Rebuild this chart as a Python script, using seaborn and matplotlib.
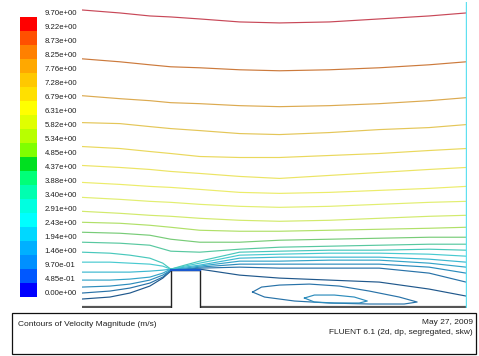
import numpy as np
import pandas as pd
import matplotlib
matplotlib.use("Agg")
import matplotlib.pyplot as plt
import seaborn as sns
from matplotlib.colors import ListedColormap
from matplotlib.patches import Rectangle

# ---- colour scale (velocity magnitude, m/s), top to bottom
scale_values = [9.70, 9.22, 8.73, 8.25, 7.76, 7.28, 6.79, 6.31, 5.82, 5.34, 4.85,
                4.37, 3.88, 3.40, 2.91, 2.43, 1.94, 1.46, 0.970, 0.485, 0.00]
band_colors = ["#ff0000", "#ff5000", "#ff8000", "#ffa800", "#ffc800", "#ffe000",
               "#ffff00", "#e0ff00", "#b8ff00", "#80ff00", "#00e020", "#00ff78",
               "#00ffb0", "#00ffe0", "#00ffff", "#00d8ff", "#00b0ff", "#0090ff",
               "#0058ff", "#0000ff"]

# ---- geometry (domain units)
domain_x = [0, 385]
domain_y = [0, 306]
wall_left_x = [0, 89]
wall_right_x = [118, 385]
block_x = [89, 89, 118, 118]
block_y = [0, 37, 37, 0]

# ---- contour lines running over the whole channel
upper_levels = [9.22, 8.73, 8.25, 7.76, 7.28, 6.79, 6.31, 5.82, 5.34, 4.85, 4.37, 3.88]
x_upper = [0, 38, 68, 89, 118, 158, 198, 248, 298, 348, 385]
c922 = [298, 295, 292, 291, 289, 286, 285, 286, 289, 292, 295]
c873 = [249, 246, 243, 241, 240, 238, 237, 238, 240, 243, 246]
c825 = [212, 209, 207, 205, 204, 202, 201, 202, 204, 207, 210]
c776 = [185, 184, 181, 179, 177, 174, 173, 175, 178, 180, 183]
c728 = [161, 159, 156, 154, 151, 150, 150, 152, 154, 157, 159]
c679 = [142, 140, 138, 136, 134, 131, 129, 132, 135, 138, 140]
c631 = [125, 123, 121, 120, 118, 115, 114, 115, 117, 119, 121]
c582 = [110, 108, 106, 105, 103, 101, 100, 101, 103, 105, 106]
c534 = [96, 94, 92, 91, 89, 87, 86, 87, 89, 91, 92]
c485 = [85, 84, 82, 80, 77, 76, 76, 77, 78, 79, 80]
c437 = [75, 74, 72, 68, 65, 65, 67, 68, 69, 70, 70]
c388 = [65, 64, 62, 56, 55, 58, 60, 61, 62, 63, 63]
upper_lines = [c922, c873, c825, c776, c728, c679, c631, c582, c534, c485, c437, c388]

# ---- low levels: upstream part ends at the block corner, downstream part leaves the block top
lower_levels = [3.40, 2.91, 2.43, 1.94, 1.46, 0.970, 0.485]
x_in = [0, 28, 48, 68, 81, 89]
in340 = [55, 54, 52, 49, 44, 38]
in291 = [45, 45, 44, 43, 41, 38]
in243 = [35, 35, 35, 36, 37, 38]
in194 = [27, 27, 28, 30, 34, 38]
in146 = [20, 21, 23, 27, 32, 37]
in097 = [14, 16, 19, 24, 30, 37]
in049 = [8, 10, 14, 21, 29, 36]
x_out = [89, 103, 118, 158, 198, 248, 298, 348, 385]
out340 = [38, 42, 46, 55, 56, 57, 57, 58, 57]
out291 = [38, 41, 44, 52, 53, 54, 54, 53, 51]
out243 = [38, 40, 42, 49, 50, 50, 50, 48, 45]
out194 = [38, 39, 41, 46, 46, 47, 47, 44, 40]
out146 = [37, 38, 40, 43, 43, 43, 43, 40, 34]
out097 = [37, 38, 39, 40, 39, 39, 39, 34, 25]
out049 = [37, 37, 38, 32, 29, 27, 25, 18, 11]
lower_in = [in340, in291, in243, in194, in146, in097, in049]
lower_out = [out340, out291, out243, out194, out146, out097, out049]

# ---- closed loops in the recirculation zone
loop_outer_level = 0.970
loop_outer_x = [171, 180, 198, 228, 258, 288, 318, 336, 323, 288, 248, 213, 183, 171]
loop_outer_y = [15, 20, 22, 23, 21, 16, 10, 5, 3, 3, 4, 6, 10, 15]
loop_inner_level = 1.46
loop_inner_x = [223, 233, 253, 273, 286, 278, 253, 233, 223]
loop_inner_y = [9, 12, 12, 10, 6, 4, 4, 5, 9]

line_colors = {9.22: "#c84858", 8.73: "#cc7a3c", 8.25: "#dcaa50", 7.76: "#e4c658",
               7.28: "#ead85c", 6.79: "#ece464", 6.31: "#ecec6a", 5.82: "#e2ee70",
               5.34: "#d2ea6c", 4.85: "#b0e068", 4.37: "#78cc78", 3.88: "#58c8a0",
               3.40: "#48c8bc", 2.91: "#48cad0", 2.43: "#3cb8d0", 1.94: "#34a4c8",
               1.46: "#2c8cbc", 0.970: "#2872a8", 0.485: "#20588c"}

# build long table of line segments
rows = []
seg = 0
for lev, ys in zip(upper_levels, upper_lines):
    for x, y in zip(x_upper, ys):
        rows.append((x, y, lev, seg))
    seg += 1
for lev, yi, yo in zip(lower_levels, lower_in, lower_out):
    for x, y in zip(x_in, yi):
        rows.append((x, y, lev, seg))
    seg += 1
    for x, y in zip(x_out, yo):
        rows.append((x, y, lev, seg))
    seg += 1
for x, y in zip(loop_outer_x, loop_outer_y):
    rows.append((x, y, loop_outer_level, seg))
seg += 1
for x, y in zip(loop_inner_x, loop_inner_y):
    rows.append((x, y, loop_inner_level, seg))
df = pd.DataFrame(rows, columns=["x", "y", "level", "seg"])

plt.rcParams["font.family"] = ["Liberation Sans", "DejaVu Sans"]

W, H = 479, 356
fig = plt.figure(figsize=(W / 100, H / 100), dpi=100)
fig.patch.set_facecolor("white")

# ---- colour bar
cax = fig.add_axes([20 / W, (H - 297) / H, 17 / W, 280 / H])
band_mid = np.array([(a + b) / 2 for a, b in zip(scale_values[:-1], scale_values[1:])])
sns.heatmap(band_mid.reshape(-1, 1), ax=cax, cmap=ListedColormap(band_colors[::-1]),
            vmin=0, vmax=9.70, cbar=False, xticklabels=False, yticklabels=False)
cax.axis("off")
for i, v in enumerate(scale_values):
    cax.text(1.45, i - 0.28, f"{v:.2e}", fontsize=5.6, color="#202020",
             ha="left", va="center", clip_on=False)

# ---- flow domain
ax = fig.add_axes([82 / W, (H - 308) / H, 385 / W, 306 / H])
sns.lineplot(data=df, x="x", y="y", hue="level", units="seg", estimator=None,
             sort=False, palette=line_colors, legend=False, linewidth=0.85, ax=ax)
ax.plot(wall_left_x, [0, 0], color="#555555", lw=1.6, solid_capstyle="butt")
ax.plot(wall_right_x, [0, 0], color="#555555", lw=1.6, solid_capstyle="butt")
ax.plot(block_x, block_y, color="#222222", lw=1.0)
ax.plot(block_x[1:3], block_y[1:3], color="#1a5ad0", lw=1.6)
ax.plot([domain_x[1], domain_x[1]], domain_y, color="#5ee0f0", lw=1.0)
ax.set_xlim(domain_x[0], domain_x[1] + 1)
ax.set_ylim(-1, domain_y[1])
ax.axis("off")

# ---- caption box
fig.patches.append(Rectangle((12 / W, 2 / H), 464 / W, 41 / H, transform=fig.transFigure,
                             fill=False, edgecolor="#111111", lw=0.9))
fig.text(18 / W, (H - 325) / H, "Contours of Velocity Magnitude (m/s)", fontsize=6,
         color="#202020", ha="left", va="center")
fig.text(473 / W, (H - 323) / H, "May 27, 2009", fontsize=6,
         color="#202020", ha="right", va="center")
fig.text(473 / W, (H - 332) / H, "FLUENT 6.1 (2d, dp, segregated, skw)", fontsize=6,
         color="#202020", ha="right", va="center")

fig.savefig("out.png", dpi=100, facecolor="white")
